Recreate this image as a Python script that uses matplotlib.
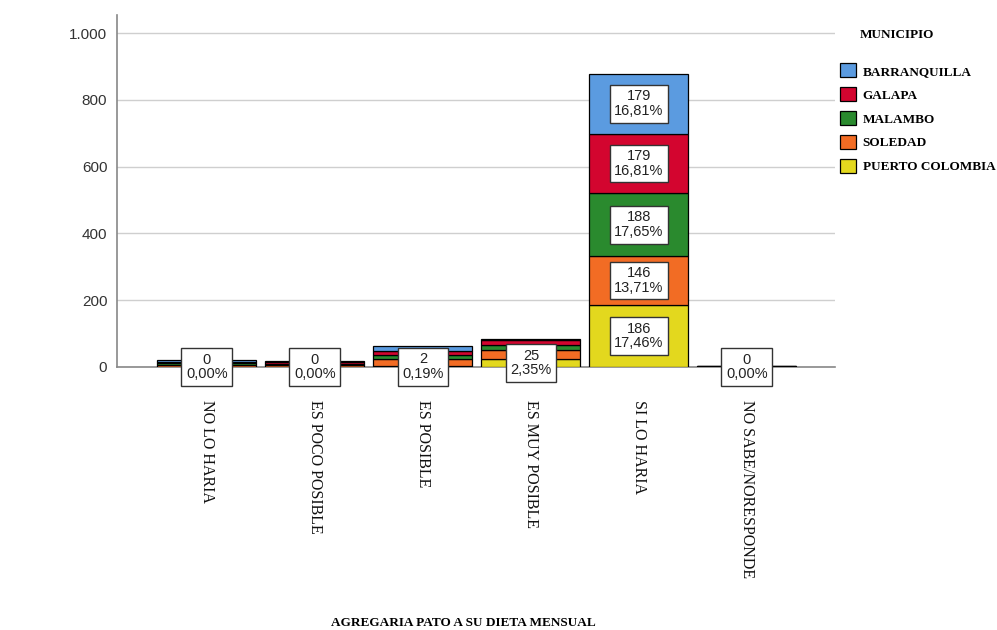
import numpy as np
import matplotlib
matplotlib.use('Agg')
import matplotlib.pyplot as plt
from matplotlib.patches import Patch
from matplotlib.ticker import FuncFormatter

# categorias del eje x
categorias = ['NO LO HARIA', 'ES POCO POSIBLE', 'ES POSIBLE', 'ES MUY POSIBLE',
              'SI LO HARIA', 'NO SABE/NORESPONDE']

# conteos por municipio (apilados de abajo hacia arriba)
puerto_colombia = [0, 0, 2, 25, 186, 0]
soledad = [5, 5, 22, 26, 146, 1]
malambo = [6, 5, 12, 14, 188, 1]
galapa = [5, 4, 12, 16, 179, 0]
barranquilla = [6, 3, 14, 2, 179, 1]

# etiquetas mostradas en las barras
etiquetas = {
    4: [('PUERTO COLOMBIA', '186\n17,46%'), ('SOLEDAD', '146\n13,71%'),
        ('MALAMBO', '188\n17,65%'), ('GALAPA', '179\n16,81%'),
        ('BARRANQUILLA', '179\n16,81%')],
}
etiquetas_pc = ['0\n0,00%', '0\n0,00%', '2\n0,19%', '25\n2,35%', None, '0\n0,00%']

series = [('PUERTO COLOMBIA', puerto_colombia, '#E3D81E'),
          ('SOLEDAD', soledad, '#F26C24'),
          ('MALAMBO', malambo, '#2A8A2E'),
          ('GALAPA', galapa, '#D3052F'),
          ('BARRANQUILLA', barranquilla, '#5B9BE0')]

fig = plt.figure(figsize=(9.97, 6.3), dpi=100)
ax = fig.add_axes([117/997, 1-367/630, (835-117)/997, 352/630])

x = np.arange(len(categorias))
ancho = 0.917
base = np.zeros(len(categorias))
centros = {}
for nombre, vals, color in series:
    vals = np.array(vals, dtype=float)
    ax.bar(x, vals, ancho, bottom=base, color=color, edgecolor='black',
           linewidth=0.9, zorder=3)
    centros[nombre] = base + vals / 2
    base = base + vals

caja = dict(boxstyle='square,pad=0.32', facecolor='white', edgecolor='#333333',
            linewidth=1.0)
for i, txt in enumerate(etiquetas_pc):
    if txt is not None:
        ax.text(x[i], centros['PUERTO COLOMBIA'][i], txt, ha='center', va='center',
                fontsize=10.5, family='Liberation Sans', color='#222222',
                linespacing=1.05, bbox=caja, zorder=5)
for i, lst in etiquetas.items():
    for nombre, txt in lst:
        ax.text(x[i], centros[nombre][i], txt, ha='center', va='center',
                fontsize=10.5, family='Liberation Sans', color='#222222',
                linespacing=1.05, bbox=caja, zorder=5)

ax.set_xlim(-0.833, 5.815)
ax.set_ylim(0, 1054)
ax.set_yticks([0, 200, 400, 600, 800, 1000])
ax.yaxis.set_major_formatter(FuncFormatter(lambda v, p: f'{int(v):,}'.replace(',', '.')))
ax.grid(axis='y', color='#cfcfcf', linewidth=1.0, zorder=0)
ax.set_axisbelow(True)

ax.set_xticks(x)
ax.set_xticklabels(categorias, rotation=-90, ha='center', va='top',
                   family='Liberation Serif', fontsize=11.5, color='#111111')
ax.tick_params(axis='x', length=0, pad=24)
ax.tick_params(axis='y', length=0, pad=7, labelsize=11, labelcolor='#333333')
for t in ax.get_yticklabels():
    t.set_family('Liberation Sans')

for s in ['top', 'right']:
    ax.spines[s].set_visible(False)
ax.spines['left'].set_color('#888888')
ax.spines['bottom'].set_color('#888888')
ax.spines['left'].set_linewidth(1.2)
ax.spines['bottom'].set_linewidth(1.2)

fig.text(463/997, 1-623/630, 'AGREGARIA PATO A SU DIETA MENSUAL', ha='center',
         va='center', family='Liberation Serif', fontweight='bold', fontsize=9.5)

# leyenda
fig.text(860/997, 1-35/630, 'MUNICIPIO', ha='left', va='center',
         family='Liberation Serif', fontweight='bold', fontsize=9.5)
handles = [Patch(facecolor=c, edgecolor='black', linewidth=0.9, label=n)
           for n, _, c in series[::-1]]
fig.legend(handles=handles, loc='upper left', bbox_to_anchor=(835/997, 1-58/630),
           frameon=False, handlelength=1.2, handleheight=1.25, handletextpad=0.5,
           labelspacing=0.72, borderaxespad=0,
           prop={'family': 'Liberation Serif', 'weight': 'bold', 'size': 9.5})

plt.savefig('out.png', dpi=100)
